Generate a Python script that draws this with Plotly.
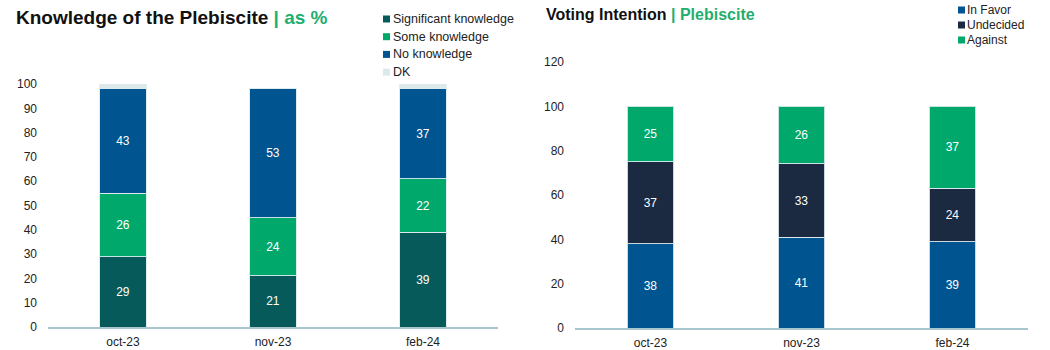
import plotly.graph_objects as go

W, H = 1050, 350

# ---- data ----
months = ["oct-23", "nov-23", "feb-24"]

know_names = ["Significant knowledge", "Some knowledge", "No knowledge", "DK"]
significant = [29, 21, 39]
some = [26, 24, 22]
no_know = [43, 53, 37]
dk = [2, 0, 2]
know_colors = ["#075a5a", "#00a86b", "#00548f", "#dce8ea"]

vote_names = ["In Favor", "Undecided", "Against"]
in_favor = [38, 41, 39]
undecided = [37, 33, 24]
against = [25, 26, 37]
vote_colors = ["#00548f", "#1b2a40", "#00a86b"]

FONT = "Liberation Sans, Arial, Helvetica, sans-serif"

fig = go.Figure()

know_vals = [significant, some, no_know, dk]
for name, vals, col in zip(know_names, know_vals, know_colors):
    show_text = name != "DK"
    fig.add_trace(go.Bar(
        x=months, y=vals, name=name, marker_color=col,
        marker_line=dict(color="rgba(220,235,240,0.9)", width=1),
        width=0.31, xaxis="x", yaxis="y",
        text=[str(v) for v in vals] if show_text else None,
        textposition="inside", insidetextanchor="middle",
        textfont=dict(color="white", size=12, family=FONT),
        showlegend=False,
    ))

vote_vals = [in_favor, undecided, against]
for name, vals, col in zip(vote_names, vote_vals, vote_colors):
    fig.add_trace(go.Bar(
        x=months, y=vals, name=name, marker_color=col,
        marker_line=dict(color="rgba(220,235,240,0.9)", width=1),
        width=0.31, xaxis="x2", yaxis="y2",
        text=[str(v) for v in vals],
        textposition="inside", insidetextanchor="middle",
        textfont=dict(color="white", size=12, family=FONT),
        showlegend=False,
    ))

def px_x(p):
    return p / W

def px_y(p):
    return 1 - p / H

axis_common = dict(showgrid=False, zeroline=False, ticks="", automargin=False,
                   tickfont=dict(size=12, color="#222", family=FONT))

fig.update_layout(
    width=W, height=H, barmode="stack",
    margin=dict(l=0, r=0, t=0, b=0, pad=0, autoexpand=False),
    paper_bgcolor="white", plot_bgcolor="white",
    font=dict(family=FONT, color="#222"),
    showlegend=False,
    xaxis=dict(domain=[px_x(48), px_x(498)], anchor="y",
               showline=True, linecolor="#a9c6cf", linewidth=1.5,
               ticklabelstandoff=3, **axis_common),
    yaxis=dict(domain=[px_y(327), px_y(84)], anchor="x", range=[0, 100],
               dtick=10, showline=False, ticklabelstandoff=10, **axis_common),
    xaxis2=dict(domain=[px_x(575), px_x(1028)], anchor="y2",
                showline=True, linecolor="#a9c6cf", linewidth=1.5,
                ticklabelstandoff=3, **axis_common),
    yaxis2=dict(domain=[px_y(328), px_y(62)], anchor="x2", range=[0, 120],
                dtick=20, showline=False, ticklabelstandoff=10, **axis_common),
)

annotations = [
    dict(x=px_x(14), y=px_y(17), xref="paper", yref="paper", xanchor="left",
         yanchor="middle", showarrow=False,
         text="<b>Knowledge of the Plebiscite</b> <b><span style='color:#1fae6f'>| as %</span></b>",
         font=dict(size=19, color="#111", family=FONT)),
    dict(x=px_x(544), y=px_y(14), xref="paper", yref="paper", xanchor="left",
         yanchor="middle", showarrow=False,
         text="<b>Voting Intention</b> <b><span style='color:#1fae6f'>| Plebiscite</span></b>",
         font=dict(size=16, color="#111", family=FONT)),
]
shapes = []

# custom legends (left)
for i, (name, col) in enumerate(zip(know_names, know_colors)):
    cy = 19 + i * 17.7
    shapes.append(dict(type="rect", xref="paper", yref="paper",
                       x0=px_x(383), x1=px_x(390), y0=px_y(cy + 3.5), y1=px_y(cy - 3.5),
                       fillcolor=col, line=dict(width=0)))
    annotations.append(dict(x=px_x(391), y=px_y(cy), xref="paper", yref="paper",
                            xanchor="left", yanchor="middle", showarrow=False,
                            text=name, font=dict(size=12.5, color="#222", family=FONT)))

# custom legends (right)
for i, (name, col) in enumerate(zip(vote_names, vote_colors)):
    cy = 10 + i * 15
    shapes.append(dict(type="rect", xref="paper", yref="paper",
                       x0=px_x(958), x1=px_x(965), y0=px_y(cy + 3.5), y1=px_y(cy - 3.5),
                       fillcolor=col, line=dict(width=0)))
    annotations.append(dict(x=px_x(965), y=px_y(cy), xref="paper", yref="paper",
                            xanchor="left", yanchor="middle", showarrow=False,
                            text=name, font=dict(size=12, color="#222", family=FONT)))

fig.update_layout(annotations=annotations, shapes=shapes)

fig.write_html("out.html")
